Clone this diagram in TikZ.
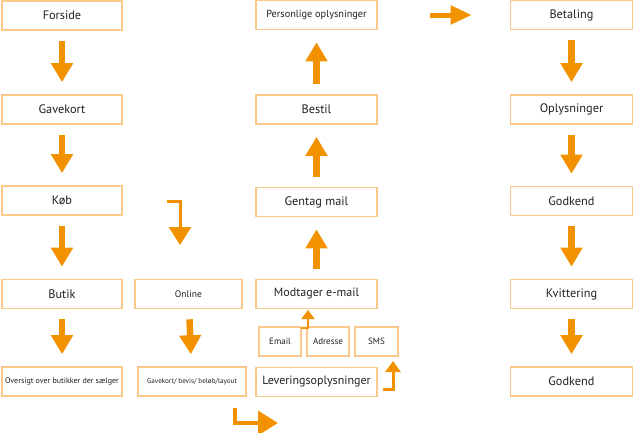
\documentclass[tikz,border=0pt]{standalone}
\usepackage{fontspec}
\setmainfont{PT Sans}
\usepackage{tikz}
\usetikzlibrary{arrows.meta}

\definecolor{arroworange}{RGB}{243,146,0}
\definecolor{boxorange}{RGB}{250,200,140}
\definecolor{textgray}{RGB}{35,31,32}

\tikzset{
  box/.style={draw=boxorange, line width=1.6pt, inner sep=0pt, minimum height=29pt,
    minimum width=120pt, text=textgray, font=\fontsize{12.3}{14}\selectfont},
  bigarrow/.style={arroworange, line width=6.5pt, -{Triangle[width=21pt,length=19pt]},
    shorten <=10pt, shorten >=12pt},
  bentarrow/.style={arroworange, line width=3pt, -{Triangle[width=22pt,length=18pt]}},
  smallbent/.style={arroworange, line width=2.5pt, -{Triangle[width=13pt,length=9pt]}}
}

\begin{document}
\begin{tikzpicture}[x=1pt,y=-1pt]
  \useasboundingbox (0,0) rectangle (634,432);
  \node[box] (forside) at (62,15.5) {Forside};
  \node[box] (gavekort) at (62,109.5) {Gavekort};
  \node[box] (kob) at (62,200.5) {Køb};
  \node[box] (butik) at (62,294) {Butik};
  \node[box, font=\fontsize{8}{10}\selectfont] (oversigt) at (62,381.5) {Oversigt over butikker der sælger};
  \node[box, minimum width=107pt, font=\fontsize{9.5}{11}\selectfont] (online) at (188.5,294) {Online};
  \node[box, minimum width=108pt, font=\fontsize{7.1}{8}\selectfont] (bevis) at (192,381.5) {Gavekort/ bevis/ beløb/layout};
  \node[box, minimum width=121pt, font=\fontsize{10.3}{12}\selectfont] (personlige) at (316.5,15) {Personlige oplysninger};
  \node[box, minimum width=121pt] (bestil) at (316.5,109.5) {Bestil};
  \node[box, minimum width=121pt] (gentag) at (316.5,202) {Gentag mail};
  \node[box, minimum width=121pt, font=\fontsize{12}{14}\selectfont] (modtager) at (316.5,294) {Modtager e-mail};
  \node[box, minimum width=42pt, font=\fontsize{9}{10}\selectfont] (email) at (280,341.5) {Email};
  \node[box, minimum width=42pt, font=\fontsize{9}{10}\selectfont] (adresse) at (328,341.5) {Adresse};
  \node[box, minimum width=43pt, font=\fontsize{9}{10}\selectfont] (sms) at (376.5,341.5) {SMS};
  \node[box, minimum width=121pt, font=\fontsize{12}{14}\selectfont] (levering) at (316.5,382) {Leveringsoplysninger};
  \node[box, minimum width=122pt] (betaling) at (571.5,15) {Betaling};
  \node[box, minimum width=122pt] (oplysninger) at (571.5,109.5) {Oplysninger};
  \node[box, minimum width=122pt] (godkend) at (571.5,201) {Godkend};
  \node[box, minimum width=122pt] (kvittering) at (571.5,294) {Kvittering};
  \node[box, minimum width=122pt] (godkendto) at (571.5,381.5) {Godkend};
  % free ends of the bent arrows
  \coordinate (kobturn) at (167,201);
  \coordinate (onlinetip) at (180,245);
  \coordinate (emailturn) at (301,328);
  \coordinate (modtagertip) at (308,310);
  \coordinate (levturn) at (383,389);
  \coordinate (smstip) at (393,361);
  \coordinate (bevisturn) at (235,408);
  \coordinate (bevistip) at (278,423);
  \draw[bigarrow] (forside) -- (gavekort);
  \draw[bigarrow] (gavekort) -- (kob);
  \draw[bigarrow] (kob) -- (butik);
  \draw[bigarrow] (butik) -- (oversigt);
  \draw[bigarrow] (online) -- (bevis);
  \draw[bigarrow] (modtager) -- (gentag);
  \draw[bigarrow] (gentag) -- (bestil);
  \draw[bigarrow] (bestil) -- (personlige);
  \draw[bigarrow, line width=5pt, -{Triangle[width=18pt,length=21pt]}, shorten <=52pt, shorten >=38pt] (personlige) -- (betaling);
  \draw[bigarrow] (betaling) -- (oplysninger);
  \draw[bigarrow] (oplysninger) -- (godkend);
  \draw[bigarrow] (godkend) -- (kvittering);
  \draw[bigarrow] (kvittering) -- (godkendto);
  \draw[bentarrow] (kobturn) -| (onlinetip);
  \draw[smallbent] (emailturn) -| (modtagertip);
  \draw[bentarrow, -{Triangle[width=15pt,length=11pt]}] (levturn) -| (smstip);
  \draw[bentarrow, line width=3.5pt, -{Triangle[width=24pt,length=20pt]}] (bevisturn) |- (bevistip);
\end{tikzpicture}
\end{document}
